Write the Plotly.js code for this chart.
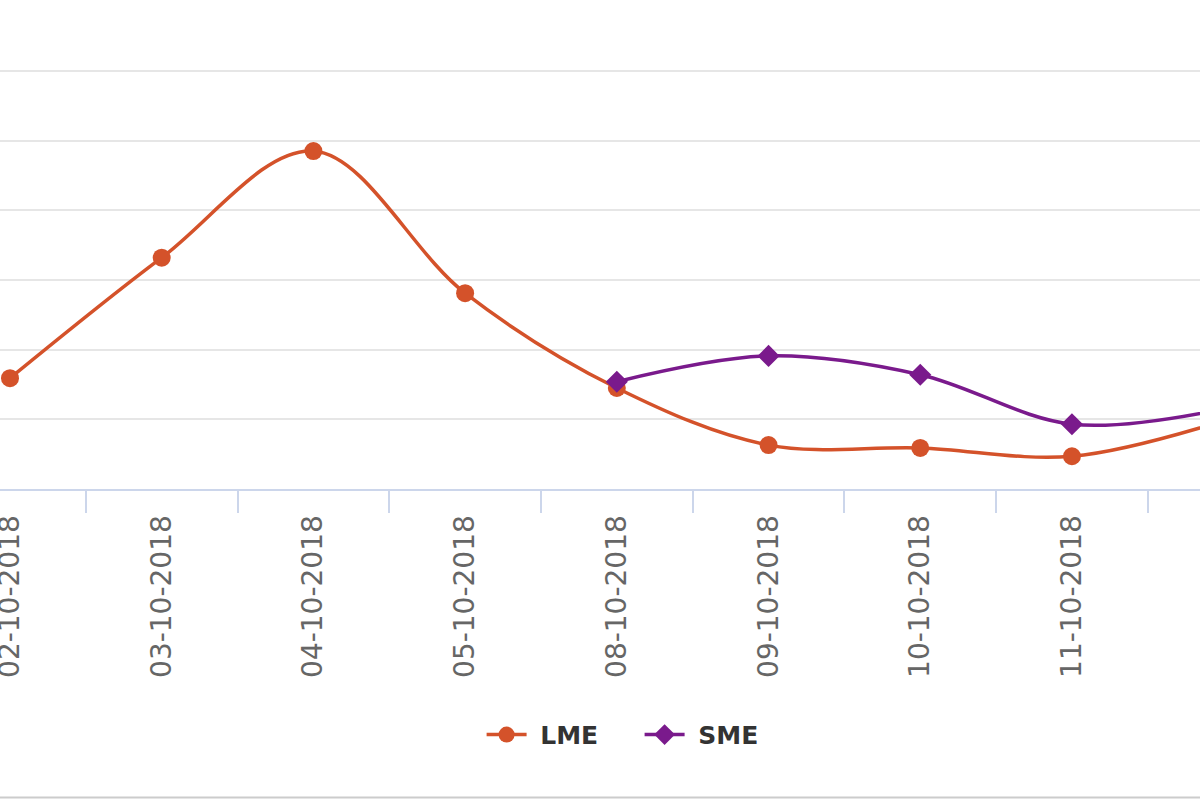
<!DOCTYPE html>
<html>
<head>
<meta charset="utf-8">
<script src="https://cdn.plot.ly/plotly-3.0.1.min.js"></script>
<style>
  html, body { margin: 0; padding: 0; background: #fff; }
  #chart { width: 1200px; height: 800px; }
</style>
</head>
<body>
<div id="chart"></div>
<script>
// Dates on the category axis (the last one sits just past the right edge)
const dates = [
    '02-10-2018', '03-10-2018', '04-10-2018', '05-10-2018', '08-10-2018',
    '09-10-2018', '10-10-2018', '11-10-2018', '12-10-2018'
];

// Values (y axis labels are cropped, one grid step = 1)
const lmeValues = [1.59, 3.32, 4.85, 2.81, 1.45, 0.63, 0.59, 0.47, 0.98];
const smeValues = [null, null, null, null, 1.54, 1.91, 1.64, 0.93, 1.15];

const LME_COLOR = '#d4522a';
const SME_COLOR = '#7a1a8c';

const traceLME = {
    x: dates,
    y: lmeValues,
    name: ' LME',
    type: 'scatter',
    mode: 'lines+markers',
    line: { color: LME_COLOR, width: 3.5, shape: 'spline', smoothing: 1 },
    marker: { color: LME_COLOR, size: 18, symbol: 'circle' },
    hoverinfo: 'x+y'
};

const traceSME = {
    x: dates,
    y: smeValues,
    name: ' SME',
    type: 'scatter',
    mode: 'lines+markers',
    line: { color: SME_COLOR, width: 3.5, shape: 'spline', smoothing: 1 },
    marker: { color: SME_COLOR, size: 17, symbol: 'diamond' },
    hoverinfo: 'x+y'
};

const layout = {
    width: 1200,
    height: 800,
    paper_bgcolor: '#ffffff',
    plot_bgcolor: '#ffffff',
    margin: { l: 0, r: 0, t: 50, b: 311 },
    showlegend: true,
    font: { family: 'DejaVu Sans, sans-serif', color: '#666666' },
    xaxis: {
        type: 'category',
        range: [-0.0659, 7.844],
        tickson: 'boundaries',
        ticks: 'outside',
        ticklen: 22,
        tickwidth: 2,
        tickcolor: '#ccd6eb',
        ticklabelstandoff: 13,
        showline: true,
        linecolor: '#ccd6eb',
        linewidth: 2,
        showgrid: false,
        zeroline: false,
        tickangle: -90,
        tickfont: { size: 28, color: '#666666', family: 'DejaVu Sans, sans-serif' }
    },
    yaxis: {
        range: [0, 6.3],
        dtick: 1,
        tick0: 0,
        showticklabels: false,
        showgrid: true,
        gridcolor: '#e6e6e6',
        gridwidth: 2,
        zeroline: false,
        showline: false,
        ticks: ''
    },
    legend: {
        orientation: 'h',
        x: 0.533,
        xanchor: 'center',
        y: -0.56,
        yanchor: 'middle',
        font: { size: 25, color: '#333333', family: 'DejaVu Sans, sans-serif', weight: 'bold' },
        itemwidth: 40,
        entrywidth: 103
    },
    shapes: [{
        type: 'line',
        xref: 'paper',
        yref: 'paper',
        x0: 0,
        x1: 1,
        y0: -0.703,
        y1: -0.703,
        line: { color: '#cccccc', width: 2 }
    }]
};

const config = { displayModeBar: false, staticPlot: true };

Plotly.newPlot('chart', [traceLME, traceSME], layout, config);
</script>
</body>
</html>
